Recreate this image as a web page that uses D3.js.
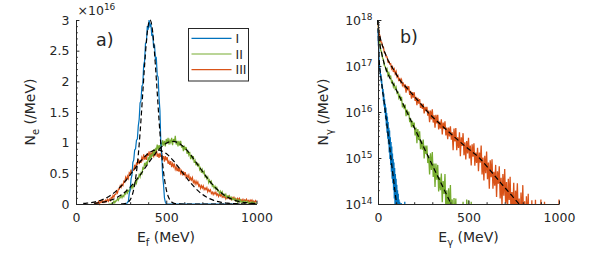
<!DOCTYPE html>
<html>
<head>
<meta charset="utf-8">
<script src="https://d3js.org/d3.v7.min.js"></script>
<style>
  body { margin: 0; background: #fff; }
  svg { font-family: "DejaVu Sans", sans-serif; }
</style>
</head>
<body>
<svg id="chart" width="605" height="265"></svg>
<script>
// ---------- data ----------
const seriesNames = ["I", "II", "III"];
const seriesColors = ["#0072BD", "#77AC30", "#D95319"];

// a) electron spectra N_e (units of 1e16 /MeV), regular energy bins
const neStartI = 280, neStepI = 5;
const neI = [0,0.03,0.04,0.17,0.22,0.41,0.47,0.68,0.72,0.88,0.9,1.04,1.06,1.27,1.38,1.65,1.68,1.92,1.95,2.27,
  2.33,2.62,2.63,2.9,2.84,3.0,2.9,2.93,2.74,2.78,2.55,2.6,2.36,2.38,2.1,2.07,1.74,1.52,1.0,0.8,
  0.46,0.31,0.1,0.03,0,
  0,0,0,0,0,0,0,0,0,0, 0,0,0,0,0,0,0,0,0,0, 0,0,0,0,0,0,0,0,0,0, 0,0,0,0,0,0,0,0,0,0,
  0,0,0,0,0,0,0,0,0,0, 0,0,0,0,0,0,0,0,0,0, 0,0,0,0,0,0,0,0,0,0, 0,0,0,0,0,0,0,0,0,0];
const neStartII = 180, neStepII = 5;
const neII = [0,0,0,0,0.02,0.01,0.05,0.02,0.05,0.05,0.09,0.06,0.10,0.10,0.14,0.10,0.14,0.12,0.18,0.16,
  0.22,0.18,0.22,0.20,0.26,0.25,0.30,0.26,0.32,0.31,0.38,0.34,0.42,0.41,0.48,0.44,0.51,0.49,0.59,0.57,
  0.67,0.62,0.69,0.64,0.76,0.72,0.81,0.74,0.81,0.79,0.89,0.80,0.90,0.88,0.97,0.88,0.96,0.89,1.0,0.94,
  1.04,0.95,1.03,0.94,1.06,0.99,1.08,0.97,1.04,1.0,1.08,0.96,1.06,1.01,1.11,0.97,1.03,0.94,1.03,0.95,
  1.03,0.92,0.96,0.86,0.95,0.88,0.93,0.82,0.86,0.80,0.85,0.73,0.80,0.74,0.78,0.67,0.71,0.63,0.68,0.61,
  0.66,0.56,0.59,0.51,0.56,0.50,0.53,0.44,0.46,0.41,0.44,0.35,0.39,0.34,0.37,0.29,0.31,0.26,0.29,0.24,
  0.27,0.21,0.22,0.17,0.21,0.17,0.20,0.14,0.16,0.13,0.16,0.10,0.13,0.11,0.135,0.09,0.11,0.07,0.09,0.07,
  0.09,0.05,0.07,0.03,0.07,0.04,0.065,0.025,0.045,0.026,0.05,0.01,0.04,0.023,0.046,0.01,0.026,0,0.03,0.01,
  0.036,0,0.018,0,0.025];
const neStartIII = 100, neStepIII = 5;
const neIII = [0,0.02,0,0.02,0.01,0.04,0,0.035,0.026,0.057,0.025,0.052,0.03,0.063,0.04,0.078,0.046,0.08,0.056,0.107,
  0.09,0.14,0.11,0.155,0.156,0.21,0.18,0.245,0.244,0.30,0.27,0.32,0.30,0.37,0.355,0.435,0.395,0.457,0.417,0.51,
  0.486,0.56,0.50,0.57,0.555,0.64,0.57,0.666,0.65,0.73,0.65,0.72,0.67,0.76,0.72,0.81,0.725,0.79,0.72,0.83,
  0.78,0.86,0.76,0.83,0.79,0.87,0.76,0.85,0.81,0.9,0.77,0.82,0.75,0.83,0.77,0.84,0.735,0.78,0.69,0.78,
  0.71,0.765,0.656,0.696,0.64,0.70,0.60,0.66,0.61,0.66,0.565,0.605,0.536,0.59,0.53,0.587,0.50,0.54,0.465,0.53,
  0.476,0.52,0.435,0.47,0.43,0.47,0.38,0.43,0.39,0.43,0.35,0.38,0.326,0.373,0.325,0.36,0.29,0.314,0.255,0.30,
  0.26,0.295,0.234,0.26,0.234,0.266,0.20,0.235,0.204,0.23,0.17,0.194,0.154,0.19,0.16,0.193,0.143,0.166,0.122,0.164,
  0.132,0.16,0.11,0.13,0.107,0.136,0.084,0.118,0.095,0.125,0.083,0.10,0.068,0.105,0.08,0.11,0.066,0.09,0.056,0.092,
  0.063,0.092,0.05,0.07,0.048,0.078,0.037,0.07,0.055,0.078,0.034,0.057,0.03,0.064,0.04,0.067,0.027,0.05,0.018,0.055,
  0.033];

// a) fitted curves (dashed)
const fitNeE_I = [250,260,270,280,290,300,310,320,330,340,350,360,370,380,390,400,410,420,430,440,450,460,470,480,490,500,510,520,530,540,550,560,600,700,800,900];
const fitNeI = [0.001,0.003,0.007,0.015,0.033,0.068,0.13,0.24,0.41,0.65,0.97,1.37,1.82,2.26,2.65,2.91,3.0,2.91,2.65,2.26,1.82,1.37,0.97,0.65,0.41,0.24,0.13,0.068,0.033,0.015,0.007,0.003,0,0,0,0];
const fitNeE_II = [100,120,140,160,180,200,220,240,260,280,300,320,340,360,380,400,420,440,460,480,500,520,540,560,580,600,620,640,660,680,700,720,740,760,780,800,820,840,860,880,900,920,940,960,980,1000];
const fitNeII = [0.011,0.017,0.025,0.036,0.051,0.071,0.096,0.129,0.169,0.217,0.274,0.34,0.413,0.49,0.576,0.661,0.745,0.823,0.892,0.949,0.99,1.015,1.02,1.005,0.972,0.923,0.859,0.785,0.70,0.619,0.534,0.452,0.375,0.306,0.245,0.192,0.148,0.112,0.083,0.06,0.043,0.03,0.021,0.014,0.009,0.006];
const fitNeE_III = [40,60,80,100,120,140,160,180,200,220,240,260,280,300,320,340,360,380,400,420,440,460,480,500,520,540,560,580,600,620,640,660,680,700,720,740,760,780,800,820,840,860,880,900,920,940,960,980,1000];
const fitNeIII = [0.009,0.014,0.021,0.031,0.044,0.063,0.088,0.119,0.158,0.206,0.262,0.327,0.398,0.475,0.553,0.631,0.705,0.769,0.822,0.859,0.878,0.878,0.859,0.822,0.769,0.705,0.631,0.553,0.475,0.398,0.327,0.262,0.206,0.158,0.119,0.088,0.063,0.044,0.031,0.021,0.014,0.009,0.006,0.004,0.002,0.001,0.001,0,0];

// b) photon spectra, log10(N_gamma /MeV)
const ngStartI = 0, ngStepI = 2;
const ngI = [17.8,17.5,17.38,17.12,17.04,16.9,16.92,16.76,16.82,16.64,16.72,16.52,16.6,16.38,16.5,16.24,16.4,16.12,16.28,15.98,
  16.18,15.85,16.1,15.7,15.98,15.55,15.9,15.42,15.78,15.3,15.66,15.12,15.6,14.98,15.45,14.85,15.35,14.7,15.25,14.55,
  15.1,14.45,14.98,14.3,14.9,14.12,14.78,14.0,14.65,13.85,14.55,13.7,14.42,13.5,14.3,13.4,14.22,13.2,14.1,13.0,
  14.05,12.8,13.9,12.7,14.02,12.5,13.7,12.3,13.6,12.2,13.5,12.0,13.3,11.9,14.05,11.8];
const ngStartII = 0, ngStepII = 5;
const ngII = [17.98,17.63,17.51,17.34,17.3,17.18,17.14,17.01,16.99,16.91,16.94,16.8,16.85,16.77,16.78,16.64,16.67,16.55,16.6,16.5,
  16.54,16.41,16.43,16.31,16.36,16.24,16.33,16.1,16.18,16.06,16.16,15.91,16.05,15.93,16.01,15.78,15.86,15.67,15.81,15.66,
  15.77,15.49,15.66,15.32,15.63,15.39,15.58,15.19,15.38,15.18,15.4,14.99,15.27,15.09,15.27,14.89,15.06,14.64,15.1,14.74,
  15.13,14.59,14.88,14.37,14.88,14.53,14.85,14.27,14.58,14.3,14.66,14.04,14.5,14.22,14.65,13.88,14.3,13.71,14.34,13.87,
  14.41,13.69,14.1,13.42,14.13,13.67,14.12,13.35,13.78,13.35,14.0,12.96,13.78,13.38,14.05,12.97,13.51,12.77,14.1,12.99,
  14.08,12.8,13.4,14.05,12.5];
const ngStartIII = 0, ngStepIII = 5;
const ngIII = [17.93,17.73,17.66,17.53,17.52,17.43,17.41,17.29,17.28,17.2,17.2,17.09,17.1,17.04,17.05,16.94,16.98,16.87,16.93,16.83,
  16.88,16.76,16.79,16.67,16.74,16.65,16.7,16.58,16.62,16.55,16.6,16.42,16.57,16.47,16.56,16.37,16.46,16.29,16.43,16.31,
  16.43,16.24,16.33,16.15,16.31,16.18,16.28,16.09,16.18,16.07,16.18,15.97,16.11,16.02,16.11,15.92,16.03,15.78,16.03,15.84,
  16.06,15.77,15.93,15.66,15.94,15.75,15.94,15.62,15.79,15.64,15.84,15.51,15.77,15.63,15.8,15.49,15.66,15.41,15.66,15.47,
  15.69,15.4,15.56,15.17,15.64,15.36,15.65,15.17,15.45,15.22,15.56,15.04,15.45,15.26,15.54,15.06,15.34,14.97,15.37,15.1,
  15.44,14.99,15.27,14.84,15.3,15.03,15.32,14.83,15.12,14.89,15.22,14.71,15.12,14.9,15.27,14.64,15.01,14.51,15.05,14.67,
  15.14,14.54,14.9,14.33,14.95,14.58,14.97,14.33,14.7,14.4,14.85,14.15,14.71,14.44,14.82,14.12,14.57,13.96,14.65,14.18,
  14.76,14.03,14.48,13.78,14.55,14.09,14.59,13.78,14.26,13.9,14.46,13.59,14.29,13.97,14.45,13.66,14.12,13.4,14.25,13.67,
  14.41,13.5,14.06,13.19,14.17,13.6,14.22,13.23,13.83,13.38,14.08,13.01,13.89,13.48,14.09,13.12,13.7,12.94,13.8,13.22,
  14.1,13.04,13.61,12.74,14.05,13.14,13.79,12.8,13.4,12.9,13.6,12.6,13.4,13.1,13.6,12.7,13.2,12.6,13.3,12.5,
  14.1];

// b) fitted curves (dashed), log10
const fitNgE_I = [0,3,6,10,20,30,40,50,60,70,80,90,100,110,120];
const fitNgI = [18.0,17.45,17.15,16.95,16.63,16.32,16.02,15.7,15.38,15.05,14.72,14.4,14.08,13.76,13.44];
const fitNgE_II = [0,3,6,10,20,30,40,100,160,220,280,340,400,460];
const fitNgII = [18.0,17.75,17.6,17.48,17.28,17.11,16.98,16.49,16.0,15.5,15.01,14.52,14.03,13.54];
const fitNgE_III = [0,3,6,10,20,30,40,50,60,70,80,90,100,120,160,200,240,275,340,410,480,560,620,680,740,780,850];
const fitNgIII = [18.0,17.8,17.72,17.65,17.5,17.38,17.27,17.18,17.09,17.02,16.96,16.9,16.83,16.7,16.52,16.34,16.16,16.0,15.75,15.5,15.26,15.0,14.73,14.45,14.18,14.0,13.7];

// axis ticks
const xTicks = [0, 500, 1000];
const yTicksL = [0, 0.5, 1, 1.5, 2, 2.5, 3];
const yTicksR = [1e14, 1e15, 1e16, 1e17, 1e18];

// ---------- drawing ----------
const ink = "#262626";
const font = "DejaVu Sans, sans-serif";
const svg = d3.select("#chart");

const xL = d3.scaleLinear().domain([0, 1000]).range([76, 256.5]);
const yL = d3.scaleLinear().domain([0, 3]).range([204, 20]);
const xR = d3.scaleLinear().domain([0, 1000]).range([378, 559]);
const yR = d3.scaleLog().domain([1e14, 1e18]).range([204, 20]);

function grid(start, step, n) { return d3.range(n).map(i => start + i * step); }

// clip for the log panel
svg.append("defs").append("clipPath").attr("id", "clipR")
  .append("rect").attr("x", 377).attr("y", 14).attr("width", 185).attr("height", 190.5);

// --- panel a) data
const lineL = d3.line().x(d => xL(d[0])).y(d => yL(d[1]));
const gL = svg.append("g");
const elecData = [
  [neIII, neStartIII, neStepIII, 2],
  [neII, neStartII, neStepII, 1],
  [neI, neStartI, neStepI, 0]
];
elecData.forEach(([vals, s, st, c]) => {
  const E = grid(s, st, vals.length);
  gL.append("path")
    .attr("d", lineL(vals.map((v, i) => [E[i], v])))
    .attr("fill", "none").attr("stroke", seriesColors[c]).attr("stroke-width", 1.2);
});
const fitLineL = d3.line().x(d => xL(d[0])).y(d => yL(d[1])).curve(d3.curveMonotoneX);
[[fitNeE_I, fitNeI], [fitNeE_II, fitNeII], [fitNeE_III, fitNeIII]].forEach(([E, vals]) => {
  gL.append("path")
    .attr("d", fitLineL(vals.map((v, i) => [E[i], v])))
    .attr("fill", "none").attr("stroke", "#000").attr("stroke-width", 1.2)
    .attr("stroke-dasharray", "5,3");
});

// --- panel b) data
const lineR = d3.line().x(d => xR(d[0])).y(d => yR(Math.pow(10, d[1])));
const gR = svg.append("g").attr("clip-path", "url(#clipR)");
const photData = [
  [ngI, ngStartI, ngStepI, 0],
  [ngII, ngStartII, ngStepII, 1],
  [ngIII, ngStartIII, ngStepIII, 2]
];
photData.forEach(([vals, s, st, c]) => {
  const E = grid(s, st, vals.length);
  gR.append("path")
    .attr("d", lineR(vals.map((v, i) => [E[i], v])))
    .attr("fill", "none").attr("stroke", seriesColors[c]).attr("stroke-width", 1.3);
});
const fitLineR = d3.line().x(d => xR(d[0])).y(d => yR(Math.pow(10, d[1]))).curve(d3.curveMonotoneX);
[[fitNgE_I, fitNgI], [fitNgE_II, fitNgII], [fitNgE_III, fitNgIII]].forEach(([E, vals]) => {
  gR.append("path")
    .attr("d", fitLineR(vals.map((v, i) => [E[i], v])))
    .attr("fill", "none").attr("stroke", "#000").attr("stroke-width", 1.2)
    .attr("stroke-dasharray", "5,3");
});

// --- axes
function styleAxis(g) {
  g.attr("font-family", font).attr("font-size", 12.5).style("color", ink);
  g.select(".domain").attr("stroke-width", 1);
}
function minor(g) { g.select(".domain").remove(); g.style("color", ink); }

const xMinor = d3.range(100, 1000, 100).filter(v => v % 500 !== 0);
const yMinorL = d3.range(1, 30).map(v => v / 10).filter(v => Math.round(v * 10) % 5 !== 0);
const yMinorR = [];
for (let n = 14; n < 18; n++) for (let k = 2; k <= 9; k++) yMinorR.push(k * Math.pow(10, n));

// left panel
svg.append("g").attr("transform", "translate(0,204)")
  .call(d3.axisBottom(xL).tickValues(xMinor).tickSize(-1.8).tickFormat("")).call(minor);
svg.append("g").attr("transform", "translate(76,0)")
  .call(d3.axisLeft(yL).tickValues(yMinorL).tickSize(-1.8).tickFormat("")).call(minor);
svg.append("g").attr("transform", "translate(0,204)")
  .call(d3.axisBottom(xL).tickValues(xTicks).tickSizeInner(-3.4).tickSizeOuter(0).tickPadding(9.5)
    .tickFormat(d3.format("d")))
  .call(styleAxis);
svg.append("g").attr("transform", "translate(76,0)")
  .call(d3.axisLeft(yL).tickValues(yTicksL).tickSizeInner(-3.4).tickSizeOuter(0).tickPadding(6.5)
    .tickFormat(d3.format("~g")))
  .call(styleAxis);

// right panel
svg.append("g").attr("transform", "translate(0,204)")
  .call(d3.axisBottom(xR).tickValues(xMinor).tickSize(-1.8).tickFormat("")).call(minor);
svg.append("g").attr("transform", "translate(378,0)")
  .call(d3.axisLeft(yR).tickValues(yMinorR).tickSize(-1.8).tickFormat("")).call(minor);
svg.append("g").attr("transform", "translate(0,204)")
  .call(d3.axisBottom(xR).tickValues(xTicks).tickSizeInner(-3.4).tickSizeOuter(0).tickPadding(9.5)
    .tickFormat(d3.format("d")))
  .call(styleAxis);
const yAxR = svg.append("g").attr("transform", "translate(378,0)")
  .call(d3.axisLeft(yR).tickValues(yTicksR).tickSizeInner(-3.4).tickSizeOuter(0).tickPadding(5.5)
    .tickFormat(""))
  .call(styleAxis);
yAxR.selectAll(".tick text").each(function (d) {
  const t = d3.select(this).attr("dy", "0.35em");
  t.append("tspan").text("10");
  t.append("tspan").attr("dy", "-0.5em").attr("font-size", 9).text(Math.round(Math.log10(d)));
});

// --- axis titles and annotations
function label(x, y, parts, opts = {}) {
  const t = svg.append("text").attr("x", x).attr("y", y)
    .attr("fill", ink).attr("font-family", font).attr("font-size", opts.size || 14)
    .attr("text-anchor", opts.anchor || "start");
  if (opts.rotate) t.attr("transform", `rotate(-90,${x},${y})`);
  parts.forEach(p => {
    const s = t.append("tspan").text(p.text);
    if (p.size) s.attr("font-size", p.size);
    if (p.dy) s.attr("dy", p.dy);
  });
  return t;
}
label(166, 241.5, [{text: "E"}, {text: "f", size: 10, dy: 4.5}, {text: " (MeV)", dy: -4.5}], {anchor: "middle"});
label(468.5, 241.5, [{text: "E"}, {text: "γ", size: 10, dy: 4.5}, {text: " (MeV)", dy: -4.5}], {anchor: "middle"});
label(34.5, 112, [{text: "N"}, {text: "e", size: 10, dy: 4.5}, {text: " (/MeV)", dy: -4.5}], {anchor: "middle", rotate: true});
label(328, 112, [{text: "N"}, {text: "γ", size: 10, dy: 4.5}, {text: " (/MeV)", dy: -4.5}], {anchor: "middle", rotate: true});
label(77.5, 15, [{text: "×10", size: 12.5}, {text: "16", size: 9, dy: -5.5}]);
label(96, 46, [{text: "a)"}], {size: 17.5});
label(400, 43, [{text: "b)"}], {size: 17.5});

// --- legend
const leg = svg.append("g");
leg.append("rect").attr("x", 188.5).attr("y", 28.5).attr("width", 60).attr("height", 52.5)
  .attr("fill", "#fff").attr("stroke", ink).attr("stroke-width", 1);
seriesNames.forEach((name, i) => {
  const y = 38.3 + i * 15.7;
  leg.append("line").attr("x1", 191.5).attr("x2", 231.5).attr("y1", y).attr("y2", y)
    .attr("stroke", seriesColors[i]).attr("stroke-width", 1.2);
  leg.append("text").attr("x", 235.5).attr("y", y).attr("dy", "0.36em")
    .attr("fill", ink).attr("font-family", font).attr("font-size", 12.5).text(name);
});
</script>
</body>
</html>
